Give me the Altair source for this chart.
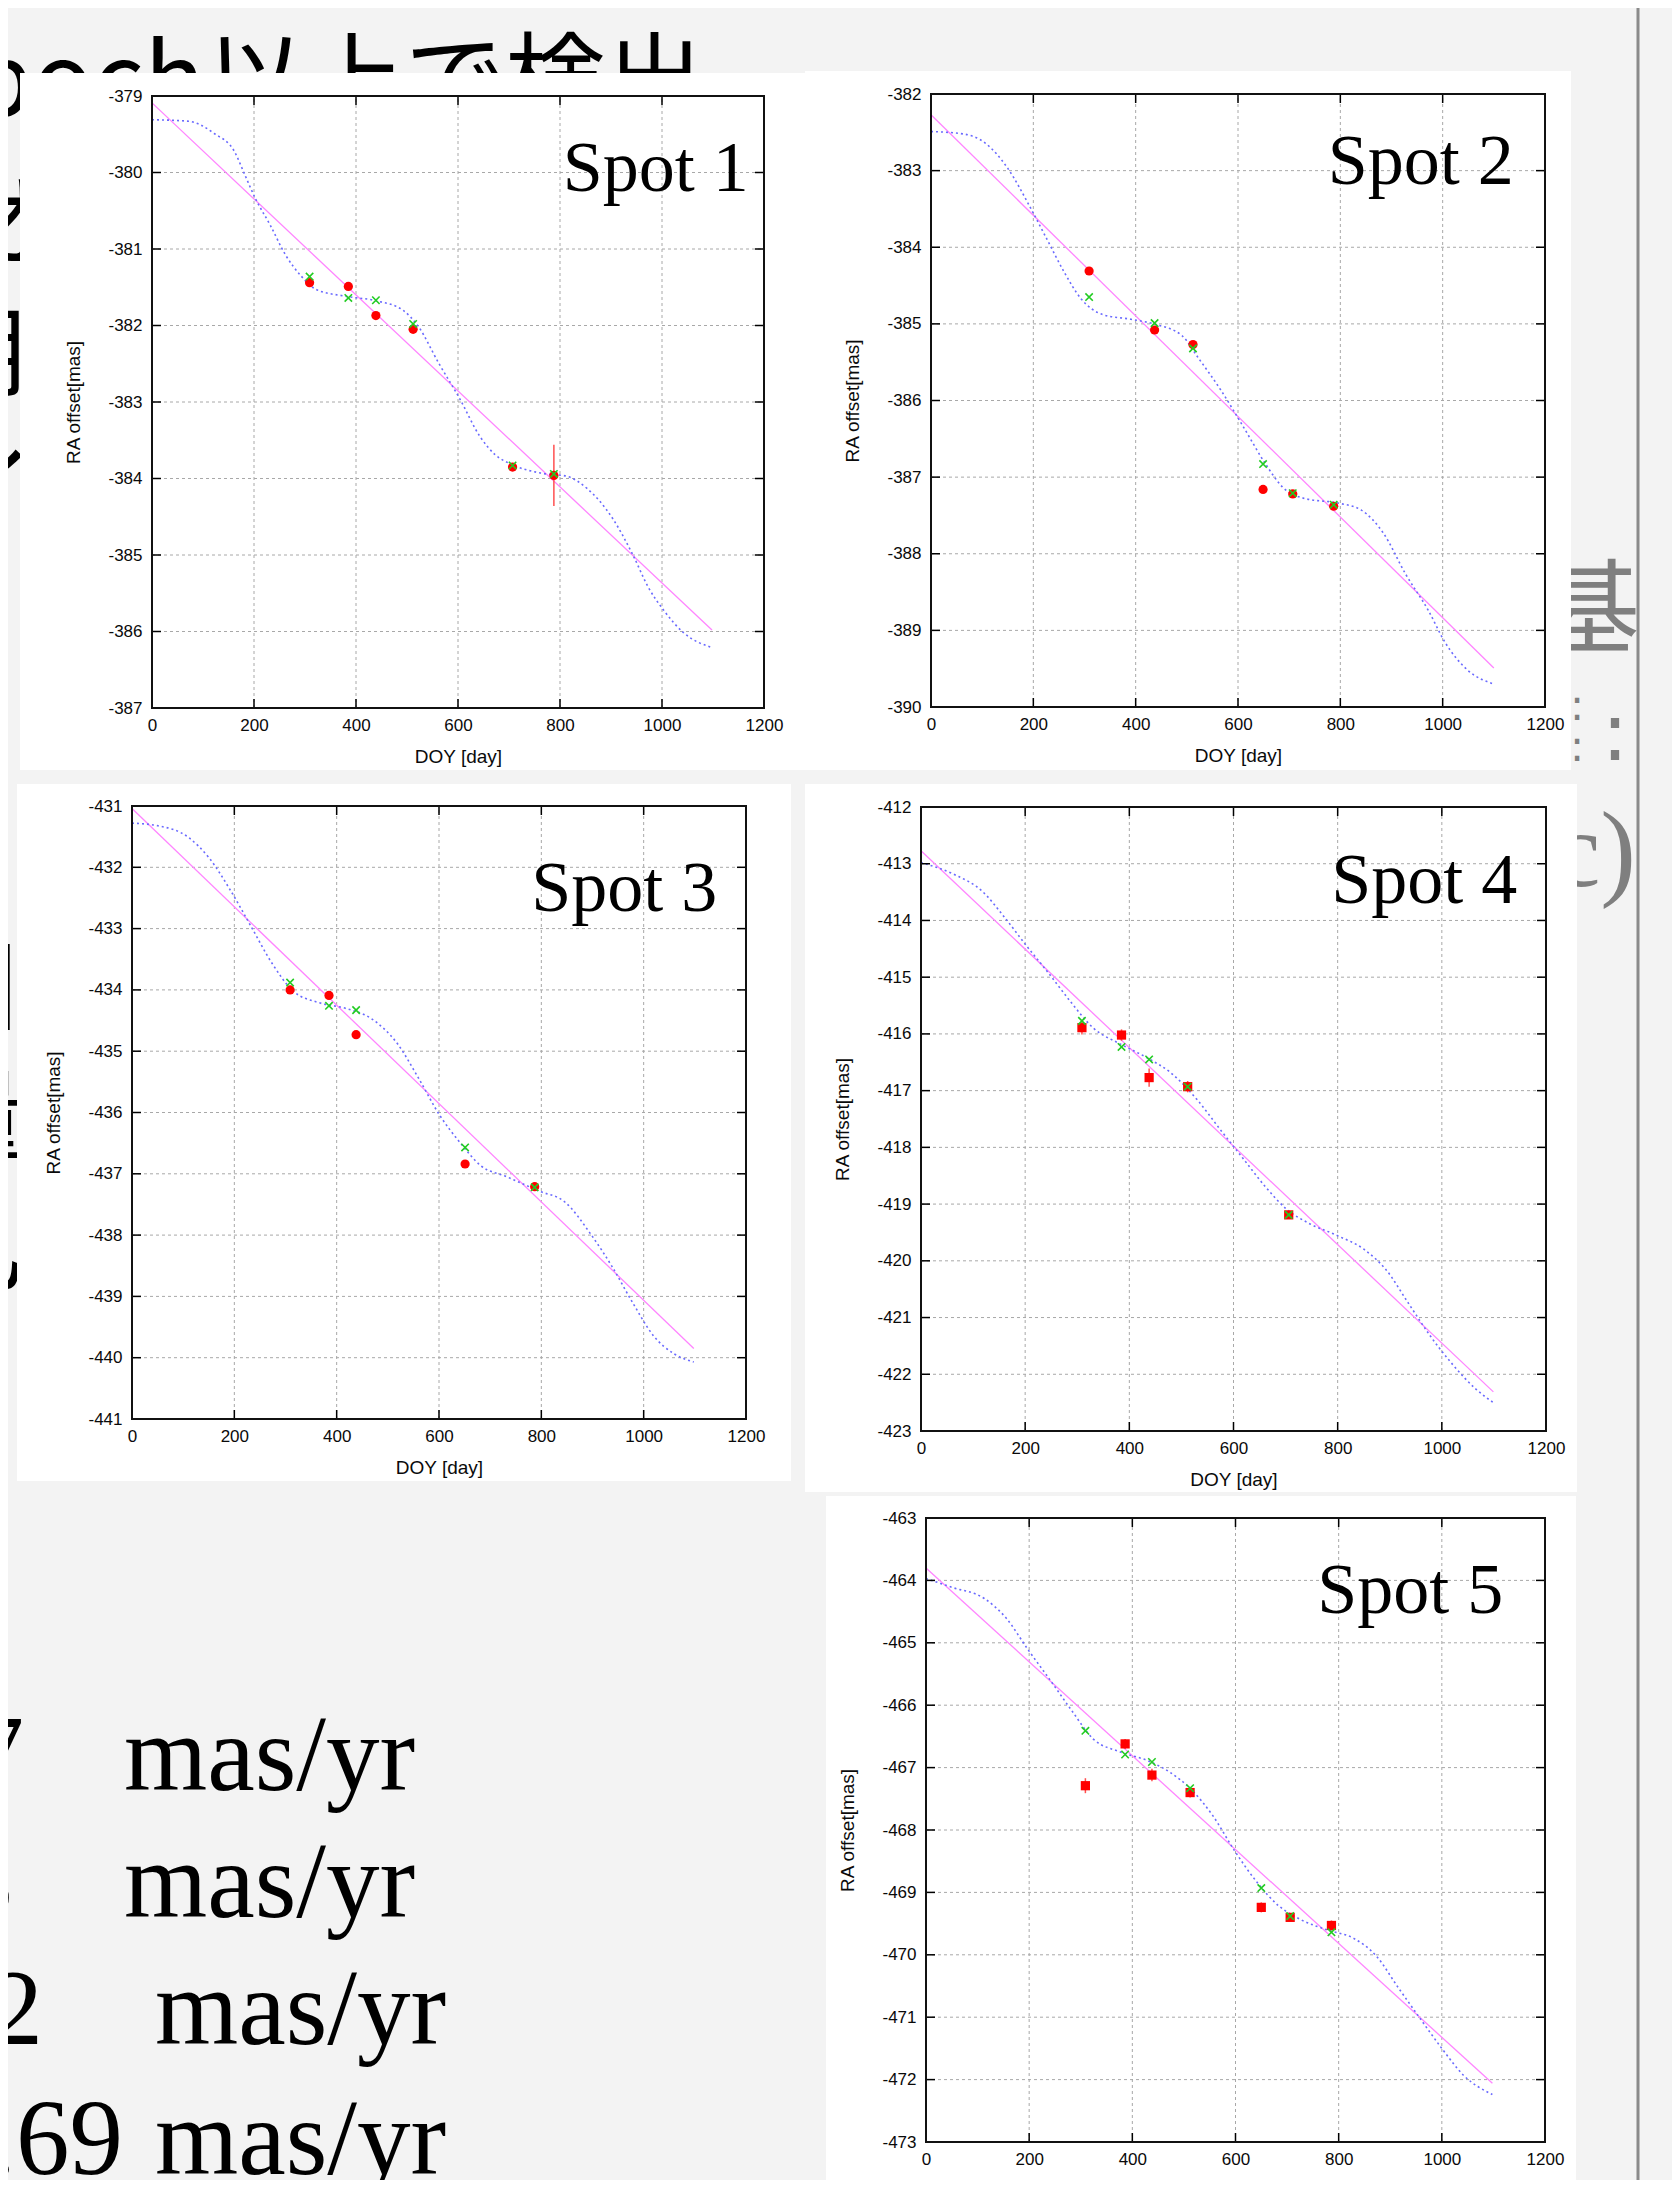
import altair as alt
import pandas as pd

# ---------------------------------------------------------------- data
X_TICKS = [0, 200, 400, 600, 800, 1000, 1200]
SPOT_NAMES = ["Spot 1", "Spot 2", "Spot 3", "Spot 4", "Spot 5"]
Y_RANGES = [(-387, -379), (-390, -382), (-441, -431), (-423, -412), (-473, -463)]

# Spot 1
RED_DOY_1 = [309, 385, 439, 512, 707, 788]
RED_Y_1 = [-381.44, -381.49, -381.87, -382.05, -383.85, -383.96]
RED_ERR_1 = [0.02, 0.02, 0.02, 0.02, 0.03, 0.40]
GREEN_Y_1 = [-381.36, -381.64, -381.67, -381.98, -383.83, -383.94]
BLUE_DOY_1 = [0, 72, 122, 162, 182, 202, 232, 262, 292, 322, 382, 442, 492, 522, 562,
              602, 643, 673, 703, 763, 813, 853, 903, 943, 973, 1003, 1043, 1098]
BLUE_Y_1 = [-379.31, -379.33, -379.49, -379.73, -380.03, -380.33, -380.69, -381.08, -381.35,
            -381.53, -381.62, -381.68, -381.80, -382.01, -382.49, -382.94, -383.45, -383.69,
            -383.81, -383.93, -383.97, -384.13, -384.52, -385.00, -385.42, -385.72, -386.02, -386.21]
PINK_DOY_1 = [0, 1098]
PINK_Y_1 = [-379.09, -385.98]

# Spot 2
RED_DOY_2 = [309, 437, 512, 649, 707, 787]
RED_Y_2 = [-384.31, -385.08, -385.27, -387.16, -387.22, -387.38]
RED_ERR_2 = [0.03, 0.03, 0.03, 0.03, 0.03, 0.03]
GREEN_Y_2 = [-384.65, -384.99, -385.32, -386.83, -387.21, -387.36]
BLUE_DOY_2 = [0, 62, 106, 150, 194, 227, 260, 293, 336, 391, 435, 490, 523, 567, 611,
              654, 687, 731, 797, 841, 884, 928, 972, 1005, 1049, 1100]
BLUE_Y_2 = [-382.49, -382.52, -382.64, -382.97, -383.48, -383.90, -384.32, -384.67, -384.88,
            -384.94, -385.00, -385.15, -385.45, -385.87, -386.35, -386.83, -387.13, -387.28,
            -387.34, -387.43, -387.73, -388.27, -388.74, -389.16, -389.52, -389.70]
PINK_DOY_2 = [0, 1100]
PINK_Y_2 = [-382.27, -389.49]

# Spot 3
RED_DOY_3 = [309, 385, 438, 651, 787]
RED_Y_3 = [-434.00, -434.09, -434.73, -436.84, -437.21]
RED_ERR_3 = [0.03, 0.03, 0.03, 0.03, 0.03]
GREEN_Y_3 = [-433.88, -434.26, -434.33, -436.57, -437.22]
BLUE_DOY_3 = [0, 49, 110, 151, 192, 233, 274, 315, 366, 417, 468, 519, 560, 601, 641,
              682, 733, 795, 846, 897, 938, 979, 1019, 1060, 1098]
BLUE_Y_3 = [-431.28, -431.32, -431.51, -431.85, -432.37, -432.97, -433.57, -434.02, -434.21,
            -434.30, -434.47, -434.88, -435.44, -436.04, -436.49, -436.87, -437.05, -437.28,
            -437.46, -437.99, -438.51, -439.11, -439.64, -439.94, -440.07]
PINK_DOY_3 = [0, 1098]
PINK_Y_3 = [-431.04, -439.85]

# Spot 4
RED_DOY_4 = [309, 385, 438, 512, 706]
RED_Y_4 = [-415.89, -416.02, -416.77, -416.93, -419.19]
RED_ERR_4 = [0.12, 0.10, 0.16, 0.10, 0.05]
GREEN_Y_4 = [-415.77, -416.23, -416.45, -416.93, -419.19]
BLUE_DOY_4 = [0, 64, 117, 160, 202, 245, 287, 330, 383, 436, 479, 532, 574, 617, 660,
              702, 745, 798, 851, 894, 936, 979, 1021, 1064, 1099]
BLUE_Y_4 = [-412.98, -413.19, -413.48, -413.94, -414.44, -414.93, -415.43, -415.89, -416.18,
            -416.43, -416.68, -417.18, -417.68, -418.18, -418.68, -419.09, -419.34, -419.55,
            -419.80, -420.17, -420.75, -421.34, -421.83, -422.25, -422.50]
PINK_DOY_4 = [0, 1099]
PINK_Y_4 = [-412.77, -422.31]

# Spot 5
RED_DOY_5 = [309, 386, 438, 512, 650, 706, 786]
RED_Y_5 = [-467.29, -466.62, -467.12, -467.40, -469.24, -469.40, -469.53]
RED_ERR_5 = [0.12, 0.08, 0.10, 0.08, 0.08, 0.05, 0.08]
GREEN_Y_5 = [-466.41, -466.79, -466.91, -467.33, -468.93, -469.38, -469.64]
BLUE_DOY_5 = [0, 50, 113, 155, 197, 240, 282, 324, 377, 430, 472, 514, 556, 598, 641,
              683, 725, 777, 830, 873, 915, 957, 1000, 1042, 1098]
BLUE_Y_5 = [-463.97, -464.11, -464.29, -464.60, -465.10, -465.59, -466.08, -466.54, -466.75,
            -466.89, -467.07, -467.35, -467.77, -468.33, -468.83, -469.21, -469.43, -469.60,
            -469.74, -470.02, -470.52, -471.01, -471.50, -471.93, -472.24]
PINK_DOY_5 = [0, 1098]
PINK_Y_5 = [-463.80, -472.06]

# slide text (only the parts visible in the picture)
TOP_TEXT = "poch以上で検出"
LEFT_FRAGMENTS = ["オ", "用", "イ", "目", "量", "乙"]
PM_TAILS = ["7", "3", "2", ".69"]
PM_UNIT = "mas/yr"
RIGHT_CHAR = "基"
RIGHT_PAREN = "c)"
RIGHT_COLON = ":"

# ---------------------------------------------------------------- layout
W, H = 1664, 2172
M = 8  # page margin: page coordinate -> chart coordinate

SANS = "Liberation Sans"
SERIF = "Liberation Serif"
CJK = "Noto Sans CJK JP"


def g(v):
    return v - M


one_row = pd.DataFrame({"k": [0]})


def text_layer(txt, x, y, size, font, color="black", align="left"):
    return alt.Chart(pd.DataFrame({"t": [txt]})).mark_text(
        x=g(x), y=g(y), align=align, baseline="alphabetic",
        fontSize=size, font=font, color=color,
    ).encode(text="t:N")


def box_layer(x0, x1, y0, y1, color="white"):
    return alt.Chart(one_row).mark_rect(color=color).encode(
        x=alt.value(g(x0)), x2=alt.value(g(x1)),
        y=alt.value(g(y0)), y2=alt.value(g(y1)),
    )


def make_panel(name, red_doy, red_y, red_err, green_y, blue_doy, blue_y, pink_doy, pink_y,
               yr, plot_box, red_shape, label_at):
    ymin, ymax = yr
    x0, x1, y0, y1 = plot_box
    xs = alt.Scale(domain=[0, 1200], range=[g(x0), g(x1)], nice=False, zero=False)
    ys = alt.Scale(domain=[ymin, ymax], range=[g(y1), g(y0)], nice=False, zero=False)
    y_ticks = list(range(ymin, ymax + 1))

    common = dict(grid=False, domain=False, ticks=False, labelFlush=False, labelOverlap=False,
                  labelFont=SANS, labelFontSize=17, labelColor="#0a0a0a",
                  titleFont=SANS, titleFontSize=19, titleFontWeight="normal",
                  titleColor="#0a0a0a", titleBaseline="middle", titleAlign="center", zindex=1)
    xaxis = alt.Axis(orient="bottom", offset=g(y1) - H, values=X_TICKS, labelPadding=9,
                     labelExpr="'' + datum.value",
                     title="DOY [day]", titleX=(g(x0) + g(x1)) / 2, titleY=48, **common)
    yaxis = alt.Axis(orient="left", offset=-g(x0), values=y_ticks, labelPadding=10,
                     labelExpr="datum.value < 0 ? '-' + abs(datum.value) : '' + datum.value",
                     title="RA offset[mas]", titleAngle=270, titleX=-79,
                     titleY=(g(y0) + g(y1)) / 2, **common)

    def X(f):
        return alt.X(f, type="quantitative", scale=xs, axis=xaxis)

    def Y(f):
        return alt.Y(f, type="quantitative", scale=ys, axis=yaxis)

    # grid lines from tick values
    gx = pd.DataFrame({"a": X_TICKS[1:-1], "b": X_TICKS[1:-1],
                       "lo": ymin, "hi": ymax})
    gy = pd.DataFrame({"a": 0, "b": 1200, "lo": y_ticks[1:-1], "hi": y_ticks[1:-1]})
    grid = pd.concat([gx, gy], ignore_index=True)
    grid_layer = alt.Chart(grid).mark_rule(color="#a8a8a8", strokeDash=[3, 3], strokeWidth=1).encode(
        x=X("a"), x2="b", y=Y("lo"), y2="hi")

    # inward ticks (gnuplot style), 9 px long
    tx = 9 / (x1 - x0) * 1200
    ty = 9 / (y1 - y0) * (ymax - ymin)
    rows = []
    for v in y_ticks[1:-1]:
        rows.append((0, tx, v, v))
        rows.append((1200 - tx, 1200, v, v))
    for v in X_TICKS[1:-1]:
        rows.append((v, v, ymin, ymin + ty))
        rows.append((v, v, ymax - ty, ymax))
    tk = pd.DataFrame(rows, columns=["a", "b", "lo", "hi"])
    tick_layer = alt.Chart(tk).mark_rule(color="black", strokeWidth=1.5).encode(
        x=X("a"), x2="b", y=Y("lo"), y2="hi")

    frame = alt.Chart(pd.DataFrame({"a": [0], "b": [1200], "lo": [ymin], "hi": [ymax]})).mark_rect(
        fill="transparent", stroke="#111111", strokeWidth=2).encode(
        x=X("a"), x2="b", y=Y("lo"), y2="hi")

    pink = alt.Chart(pd.DataFrame({"doy": pink_doy, "mas": pink_y})).mark_line(
        color="#ff85ff", strokeWidth=1.3).encode(x=X("doy"), y=Y("mas"))
    blue = alt.Chart(pd.DataFrame({"doy": blue_doy, "mas": blue_y})).mark_line(
        color="#6a6aff", strokeWidth=1.6, strokeDash=[2, 3], interpolate="monotone").encode(
        x=X("doy"), y=Y("mas"))

    rdf = pd.DataFrame({"doy": red_doy, "mas": red_y, "err": red_err})
    rdf["lo"] = rdf["mas"] - rdf["err"]
    rdf["hi"] = rdf["mas"] + rdf["err"]
    err = alt.Chart(rdf).mark_rule(color="#ff5050", strokeWidth=1.5).encode(
        x=X("doy"), y=Y("lo"), y2="hi")
    red = alt.Chart(rdf).mark_point(shape=red_shape, filled=True, color="#ff0000",
                                    size=85, opacity=1).encode(x=X("doy"), y=Y("mas"))
    green = alt.Chart(pd.DataFrame({"doy": red_doy, "mas": green_y})).mark_point(
        shape="M-1,-1L1,1M-1,1L1,-1", filled=False, color="#22cc22", strokeWidth=1.6,
        size=55, opacity=1).encode(x=X("doy"), y=Y("mas"))

    lab = alt.Chart(pd.DataFrame({"doy": [label_at[0]], "mas": [label_at[1]], "t": [name]})).mark_text(
        align="right", baseline="alphabetic", font=SERIF, fontSize=72, color="black").encode(
        x=X("doy"), y=Y("mas"), text="t:N")

    return alt.layer(grid_layer, pink, blue, err, red, green, tick_layer, frame, lab)


# ---------------------------------------------------------------- layers
layers = []

# slide background texts (partly hidden behind the pasted plots)
layers.append(text_layer(TOP_TEXT, 705, 116, 100, CJK, align="right"))
frag_pos = [(62, 258), (30, 388), (36, 528), (26, 1022), (26, 1152), (26, 1285)]
for ch, (fx, fy) in zip(LEFT_FRAGMENTS, frag_pos):
    layers.append(text_layer(ch, fx, fy, 100, CJK, align="right"))

pm_rows = [(24, 124, 1790), (13, 124, 1917), (43, 155, 2044), (123, 155, 2174)]
for tail, (nx, ux, by) in zip(PM_TAILS, pm_rows):
    layers.append(text_layer(tail, nx, by, 107, SERIF, align="right"))
    layers.append(text_layer(PM_UNIT, ux, by, 107, SERIF, align="left"))

GRAY = "#7f7f7f"
layers.append(text_layer(RIGHT_CHAR, 1640, 645, 102, CJK, color=GRAY, align="right"))
layers.append(text_layer(RIGHT_COLON, 1615, 760, 80, "DejaVu Sans", color=GRAY, align="center"))
layers.append(text_layer(RIGHT_COLON, 1577, 720, 42, "DejaVu Sans", color=GRAY, align="center"))
layers.append(text_layer(RIGHT_COLON, 1577, 761, 42, "DejaVu Sans", color=GRAY, align="center"))
layers.append(text_layer(RIGHT_PAREN, 1636, 886, 107, SERIF, color=GRAY, align="right"))

# vertical divider line of the slide
layers.append(alt.Chart(one_row).mark_rule(color="#8a8a8a", strokeWidth=3).encode(
    x=alt.value(g(1638)), y=alt.value(0), y2=alt.value(H)))

# white boxes of the pasted plot images
for bx in [(20, 805, 73, 770), (805, 1571, 71, 770), (17, 791, 784, 1481),
           (805, 1577, 784, 1492), (826, 1576, 1496, 2200)]:
    layers.append(box_layer(*bx))

panels = [
    make_panel(SPOT_NAMES[0], RED_DOY_1, RED_Y_1, RED_ERR_1, GREEN_Y_1, BLUE_DOY_1, BLUE_Y_1,
               PINK_DOY_1, PINK_Y_1, Y_RANGES[0], (152, 764, 96, 708), "circle", (1170, -380.24)),
    make_panel(SPOT_NAMES[1], RED_DOY_2, RED_Y_2, RED_ERR_2, GREEN_Y_2, BLUE_DOY_2, BLUE_Y_2,
               PINK_DOY_2, PINK_Y_2, Y_RANGES[1], (931, 1545, 94, 707), "circle", (1139, -383.17)),
    make_panel(SPOT_NAMES[2], RED_DOY_3, RED_Y_3, RED_ERR_3, GREEN_Y_3, BLUE_DOY_3, BLUE_Y_3,
               PINK_DOY_3, PINK_Y_3, Y_RANGES[2], (132, 746, 806, 1419), "circle", (1144, -432.71)),
    make_panel(SPOT_NAMES[3], RED_DOY_4, RED_Y_4, RED_ERR_4, GREEN_Y_4, BLUE_DOY_4, BLUE_Y_4,
               PINK_DOY_4, PINK_Y_4, Y_RANGES[3], (921, 1546, 807, 1431), "square", (1145, -413.69)),
    make_panel(SPOT_NAMES[4], RED_DOY_5, RED_Y_5, RED_ERR_5, GREEN_Y_5, BLUE_DOY_5, BLUE_Y_5,
               PINK_DOY_5, PINK_Y_5, Y_RANGES[4], (926, 1545, 1518, 2142), "square", (1119, -464.52)),
]
layers.extend(panels)

chart = alt.layer(*layers).resolve_scale(
    x="independent", y="independent"
).resolve_axis(
    x="independent", y="independent"
).properties(
    width=W, height=H, background="#f3f3f3", padding=0,
    autosize=alt.AutoSizeParams(type="none"),
).configure_view(stroke="transparent")

chart.save("out.html", embed_options={"renderer": "svg", "actions": False})
